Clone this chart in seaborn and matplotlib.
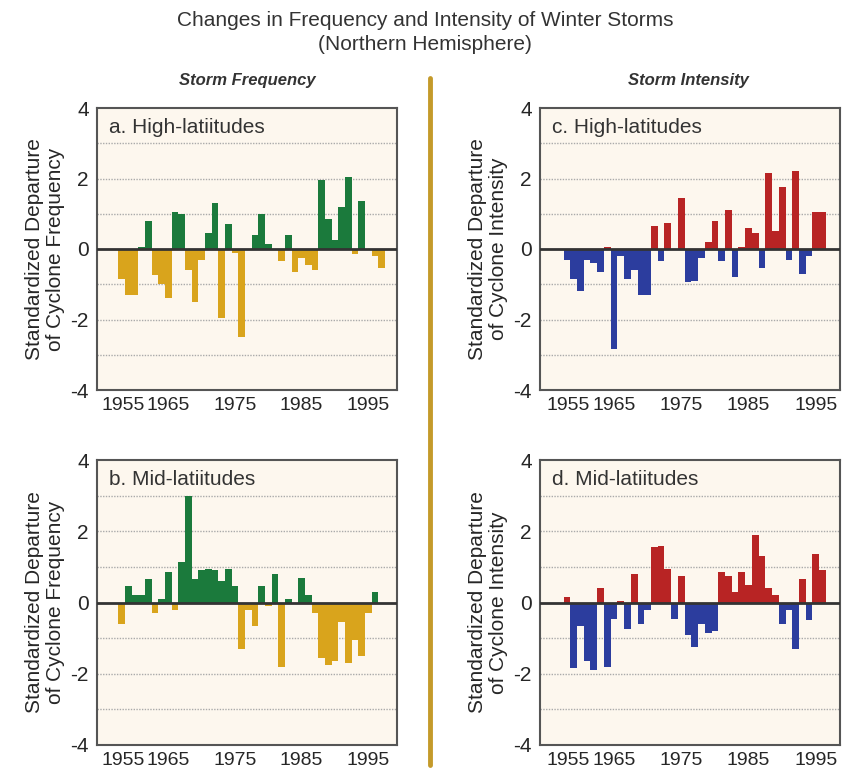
import matplotlib
matplotlib.use("Agg")
import matplotlib.pyplot as plt
import seaborn as sns
import numpy as np
import pandas as pd
from matplotlib.lines import Line2D

sns.set_theme(style="white")
plt.rcParams['font.family'] = ['Liberation Sans', 'DejaVu Sans']

years_a = list(range(1958, 1998))
freq_high = [-0.85, -1.3, -1.3, 0.05, 0.8, -0.75, -1.0, -1.4, 1.05, 1.0,
             -0.6, -1.5, -0.3, 0.45, 1.3, -1.95, 0.7, -0.1, -2.5, 0.0,
             0.4, 1.0, 0.15, 0.0, -0.35, 0.4, -0.65, -0.25, -0.45, -0.6,
             1.95, 0.85, 0.25, 1.2, 2.05, -0.15, 1.35, 0.0, -0.2, -0.55]
years_b = list(range(1958, 1997))
freq_mid = [-0.6, 0.45, 0.2, 0.2, 0.65, -0.3, 0.1, 0.85, -0.2, 1.15,
            3.0, 0.65, 0.9, 0.95, 0.9, 0.6, 0.95, 0.45, -1.3, -0.2,
            -0.65, 0.45, -0.1, 0.8, -1.8, 0.1, 0.0, 0.7, 0.2, -0.3,
            -1.55, -1.75, -1.65, -0.55, -1.7, -1.05, -1.5, -0.3, 0.3]
years_c = list(range(1958, 1997))
int_high = [-0.3, -0.85, -1.2, -0.3, -0.4, -0.65, 0.05, -2.85, -0.2, -0.85,
            -0.6, -1.3, -1.3, 0.65, -0.35, 0.75, 0.0, 1.45, -0.95, -0.9,
            -0.25, 0.2, 0.8, -0.35, 1.1, -0.8, 0.05, 0.6, 0.45, -0.55,
            2.15, 0.5, 1.75, -0.3, 2.2, -0.7, -0.2, 1.05, 1.05]
years_d = list(range(1958, 1997))
int_mid = [0.15, -1.85, -0.65, -1.65, -1.9, 0.4, -1.8, -0.45, 0.05, -0.75,
           0.8, -0.6, -0.2, 1.55, 1.6, 0.95, -0.45, 0.75, -0.9, -1.25,
           -0.6, -0.85, -0.8, 0.85, 0.75, 0.3, 0.85, 0.5, 1.9, 1.3,
           0.4, 0.2, -0.6, -0.2, -1.3, 0.65, -0.5, 1.35, 0.9]

W, H = 843, 775
fig = plt.figure(figsize=(W/100, H/100), dpi=100)

def rect(l, t, r, b):
    return [l/W, 1-b/H, (r-l)/W, (b-t)/H]

panels = [
    (rect(97, 108, 397, 390), years_a, freq_high, "a. High-latiitudes", ("#1b7a3c", "#d9a41c"), "Standardized Departure\nof Cyclone Frequency", (1954.3, 1999.3)),
    (rect(97, 460, 397, 745), years_b, freq_mid, "b. Mid-latiitudes", ("#1b7a3c", "#d9a41c"), "Standardized Departure\nof Cyclone Frequency", (1954.3, 1999.3)),
    (rect(540, 108, 840, 390), years_c, int_high, "c. High-latitudes", ("#b82424", "#2c3d9e"), "Standardized Departure\nof Cyclone Intensity", (1954, 1998.6)),
    (rect(540, 460, 840, 745), years_d, int_mid, "d. Mid-latiitudes", ("#b82424", "#2c3d9e"), "Standardized Departure\nof Cyclone Intensity", (1954, 1998.6)),
]

for pos, yrs, vals, lab, (cpos, cneg), ylab, xl in panels:
    ax = fig.add_axes(pos)
    ax.set_facecolor("#fdf7ee")
    df = pd.DataFrame({"year": yrs, "val": vals,
                       "sign": ["pos" if v >= 0 else "neg" for v in vals]})
    sns.barplot(data=df, x="year", y="val", hue="sign", palette={"pos": cpos, "neg": cneg},
                native_scale=True, width=1.0, dodge=False, legend=False, ax=ax,
                linewidth=0, saturation=1)
    ax.set_ylim(-4, 4)
    ax.set_xlim(*xl)
    for g in [-3, -2, -1, 1, 2, 3]:
        ax.axhline(g, color="#aaaaaa", lw=1, ls=(0, (1, 1)), zorder=0)
    ax.axhline(0, color="#333333", lw=2, zorder=3)
    ax.set_yticks([-4, -2, 0, 2, 4])
    ax.set_yticklabels(["-4", "-2", "0", "2", "4"], fontsize=15)
    ax.set_xticks([1955, 1965, 1975, 1985, 1995])
    ax.set_xticklabels(["1955", "1965", "1975", "1985", "1995"], fontsize=14)
    ax.get_xticklabels()[0].set_horizontalalignment("left")
    ax.set_xticks([1960, 1970, 1980, 1990], minor=True)
    ax.tick_params(axis="x", which="both", direction="in", length=4, color="#333333", pad=5)
    ax.tick_params(axis="y", length=0, pad=6)
    ax.set_xlabel("")
    ax.set_ylabel(ylab, fontsize=15, linespacing=1.1, labelpad=4)
    for s in ax.spines.values():
        s.set_color("#555555")
        s.set_linewidth(1.5)
    ax.text(0.04, 0.965, lab, transform=ax.transAxes, fontsize=15, va="top", ha="left", color="#333333")

fig.text(425/W, 1-20/H, "Changes in Frequency and Intensity of Winter Storms", ha="center", va="center", fontsize=15, color="#333333")
fig.text(425/W, 1-45/H, "(Northern Hemisphere)", ha="center", va="center", fontsize=15, color="#333333")
fig.text(247/W, 1-80/H, "Storm Frequency", ha="center", va="center", fontsize=12, fontweight="bold", fontstyle="italic", color="#333333")
fig.text(688/W, 1-80/H, "Storm Intensity", ha="center", va="center", fontsize=12, fontweight="bold", fontstyle="italic", color="#333333")
fig.add_artist(Line2D([430/W, 430/W], [1-78/H, 1-765/H], color="#c49a2a", lw=3.5, transform=fig.transFigure))

fig.savefig("out.png", dpi=100)
